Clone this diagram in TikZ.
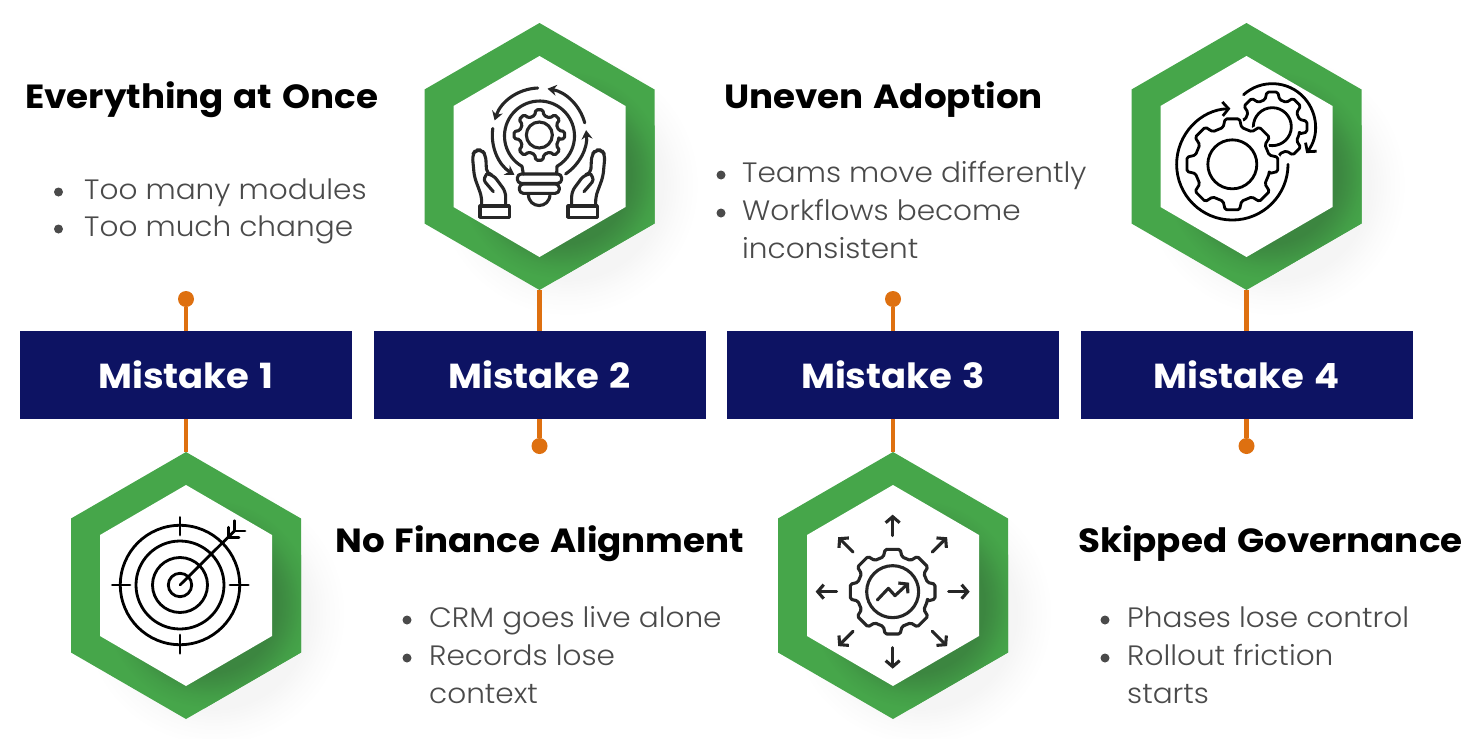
\documentclass[tikz,border=0pt]{standalone}
\usepackage{fontspec}
\setmainfont{Poppins}
\newfontfamily\headf{Poppins Bold}[FakeStretch=1.065,WordSpace=1.3]
\newfontfamily\bodyf{Poppins Light}[FakeStretch=1.055]
\usetikzlibrary{arrows.meta}
\definecolor{ringgreen}{HTML}{46A64A}
\definecolor{ringdarkA}{HTML}{3C8640}
\definecolor{ringdarkB}{HTML}{3F9043}
\definecolor{ringdarkC}{HTML}{439E47}
\definecolor{shadeA}{HTML}{F5F5F5}
\definecolor{shadeB}{HTML}{FBFBFB}
\definecolor{barnavy}{HTML}{0D1363}
\definecolor{linkorange}{HTML}{DE7010}
\definecolor{bodygray}{HTML}{4A4A4A}
\definecolor{icondark}{HTML}{262626}
\pgfdeclareradialshading{ringshade}{\pgfpoint{0bp}{0bp}}{
  color(0bp)=(ringdarkA);
  color(16.5bp)=(ringdarkA);
  color(19bp)=(ringdarkB);
  color(22bp)=(ringdarkC);
  color(25bp)=(ringgreen);
  color(50bp)=(ringgreen)}
\pgfdeclareradialshading{outershade}{\pgfpoint{0bp}{0bp}}{
  color(0bp)=(shadeA);
  color(18bp)=(shadeA);
  color(21.5bp)=(shadeB);
  color(25bp)=(white);
  color(50bp)=(white)}
\tikzset{
  x=1pt,y=-1pt,
  bar/.style={fill=barnavy,draw=none,minimum width=332pt,minimum height=88pt,inner sep=0pt,text=white,font=\fontsize{34.7}{34.7}\selectfont\headf},
  dotnode/.style={circle,fill=linkorange,draw=none,minimum size=16pt,inner sep=0pt},
  link/.style={draw=linkorange,line width=4.5pt},
  heading/.style={anchor=base west,inner sep=0pt,text=black,font=\fontsize{33.5}{33.5}\selectfont\headf},
  item/.style={anchor=base west,inner sep=0pt,text=bodygray,font=\fontsize{28}{28}\selectfont\bodyf},
  bulletdot/.style={circle,fill=bodygray,draw=none,minimum size=9pt,inner sep=0pt},
  ico/.style={line width=2.8pt,line cap=round,line join=round,draw=black},
  icod/.style={line width=3.1pt,line cap=round,line join=round,draw=icondark},
  barb/.style={-{Straight Barb[length=6pt,width=14pt]}},
  tip/.style={-{Stealth[length=9pt,width=11pt]}}
}
% hexagon outline around (cx,cy): half width, half height, half side
\newcommand\hexpath[5]{(#1,#2-#4) -- (#1+#3,#2-#5) -- (#1+#3,#2+#5) -- (#1,#2+#4) -- (#1-#3,#2+#5) -- (#1-#3,#2-#5) -- cycle}
\newcommand\hexring[2]{%
  \shade[shading=outershade] (#1+28,#2+28) circle[radius=132pt];
  \fill[ringgreen] \hexpath{#1}{#2}{115}{133.5}{67};
  \begin{scope}
    \clip \hexpath{#1}{#2}{115}{133.5}{67};
    \shade[shading=ringshade] (#1+22,#2+18) circle[radius=105pt];
  \end{scope}
  \fill[white] \hexpath{#1}{#2}{86}{100.5}{50.5};
}
% gear: cx,cy,teeth,rotation,R outer,r root,outer half angle,root half angle,style
\newcommand\geardraw[9]{%
  \draw[#9,shift={(#1,#2)},rounded corners=1.6pt]
    ({#4-#8}:#6)
    \foreach \i in {1,...,#3}{
      -- ({#4+(\i-1)*360/#3-#8}:#6) -- ({#4+(\i-1)*360/#3-#7}:#5)
      -- ({#4+(\i-1)*360/#3+#7}:#5) -- ({#4+(\i-1)*360/#3+#8}:#6)
    } -- cycle;
}
\newcommand\handshape{%
  \draw[icod,rounded corners=5pt] (50,378) -- (50,350) -- (28,290) -- (22,225) -- (32,210) -- (50,210) -- (62,225) -- (65,282) -- (85,285) -- (122,335) -- (122,378);
  \draw[icod,rounded corners=3pt] (65,282) -- (55,300) -- (85,335);
  \draw[icod] (45,378) rectangle (133,412);
}
\begin{document}
\begin{tikzpicture}
\useasboundingbox (0,0) rectangle (1473,739);
\fill[white] (0,0) rectangle (1473,739);

% hexagons
\begin{scope}
\clip (0,0) rectangle (1473,739);
\hexring{186}{585.5}
\hexring{539.5}{156.5}
\hexring{893}{585.5}
\hexring{1246.5}{156.5}
\end{scope}
\coordinate (hexA) at (186,452);
\coordinate (hexB) at (539.5,290);
\coordinate (hexC) at (893,452);
\coordinate (hexD) at (1246.5,290);

% bars
\node[bar] (bar1) at (186,375) {Mistake 1};
\node[bar] (bar2) at (539.5,375) {Mistake 2};
\node[bar] (bar3) at (893,375) {Mistake 3};
\node[bar] (bar4) at (1246.5,375) {Mistake 4};
% dots
\node[dotnode] (dot1) at (186,299) {};
\node[dotnode] (dot2) at (539.5,446) {};
\node[dotnode] (dot3) at (893,299) {};
\node[dotnode] (dot4) at (1246.5,446) {};
% connectors
\draw[link] (dot1) -- (bar1.north);
\draw[link] (bar1.south) -- (hexA);
\draw[link] (hexB) -- (bar2.north);
\draw[link] (bar2.south) -- (dot2);
\draw[link] (dot3) -- (bar3.north);
\draw[link] (bar3.south) -- (hexC);
\draw[link] (hexD) -- (bar4.north);
\draw[link] (bar4.south) -- (dot4);

% texts
\node[heading] (h1) at (25,108.5) {Everything at Once};
\node[bulletdot] (b11) at (58.5,192) {};
\node[item] (t11) at (84,199) {Too many modules};
\node[bulletdot] (b12) at (58.5,229) {};
\node[item] (t12) at (84,236) {Too much change};

\node[heading] (h2) at (335,552.5) {No Finance Alignment};
\node[bulletdot] (b21) at (407,620) {};
\node[item] (t21) at (429,627) {CRM goes live alone};
\node[bulletdot] (b22) at (407,658) {};
\node[item] (t22) at (429,665) {Records lose};
\node[item] (t23) at (429,703) {context};

\node[heading] (h3) at (724,108.5) {Uneven Adoption};
\node[bulletdot] (b31) at (721,175) {};
\node[item] (t31) at (742,182) {Teams move differently};
\node[bulletdot] (b32) at (721,213) {};
\node[item] (t32) at (742,220) {Workflows become};
\node[item] (t33) at (742,258) {inconsistent};

\node[heading] (h4) at (1078,552.5) {Skipped Governance};
\node[bulletdot] (b41) at (1105,620) {};
\node[item] (t41) at (1127,627) {Phases lose control};
\node[bulletdot] (b42) at (1105,658) {};
\node[item] (t42) at (1127,665) {Rollout friction};
\node[item] (t43) at (1127,703) {starts};

% icon 1: target
\begin{scope}[shift={(50,430)},x=.33333pt,y=-.33333pt]
  \foreach \r in {59.7pt,44pt,27.5pt,11.7pt}
    \draw[ico] (390,465) circle[radius=\r];
  \draw[ico] (390,262) -- (390,315);
  \draw[ico] (390,615) -- (390,670);
  \draw[ico] (187,465) -- (240,465);
  \draw[ico] (540,465) -- (595,465);
  \draw[ico] (390,465) -- (553,303);
  \draw[ico] (553,272) -- (553,303) -- (585,303);
  \draw[ico] (535,292) -- (535,323) -- (567,323);
\end{scope}

% icon 2: bulb
\begin{scope}[shift={(465,80)},x=.33333pt,y=-.33333pt]
  \draw[icod] (175,282) -- (171,259) arc[start angle=-120,end angle=-420+0,radius=35pt] -- (275,282);
  \geardraw{223}{165}{8}{0}{25.5pt}{20pt}{8}{13}{icod}
  \draw[icod] (223,165) circle[radius=13pt];
  \draw[icod,rounded corners=4pt] (157,282) rectangle (290,310);
  \draw[icod,rounded corners=4pt] (163,312) rectangle (283,340);
  \draw[icod] (190,342) .. controls (190,388) and (255,388) .. (255,342);
  \handshape
  \begin{scope}[shift={(442,0)},x=-.33333pt,y=-.33333pt]
    \handshape
  \end{scope}
  \draw[icod,tip] (223,165) ++(92:47pt) arc[start angle=92,end angle=162,radius=47pt];
  \draw[icod,tip] (223,165) ++(15:47pt) arc[start angle=15,end angle=80,radius=47pt];
  \draw[icod,tip] (223,165) ++(172:47pt) arc[start angle=172,end angle=238,radius=47pt];
  \draw[icod,tip] (223,165) ++(-56:47pt) arc[start angle=-56,end angle=6,radius=47pt];
\end{scope}

% icon 3: gear with arrows
\begin{scope}[shift={(760,430)},x=.33333pt,y=-.33333pt]
  \geardraw{398}{485}{8}{0}{43pt}{36pt}{10}{15}{icod}
  \draw[icod] (398,485) circle[radius=26pt];
  \draw[icod,barb] (352,510) -- (385,475) -- (405,497) -- (447,458);
  \foreach \a in {0,45,...,315}
    \draw[icod,barb,shift={(398,485)}] (\a:56pt) -- (\a:77pt);
\end{scope}

% icon 4: two gears
\begin{scope}[shift={(1110,10)},x=.33333pt,y=-.33333pt]
  \geardraw{487}{350}{8}{0}{35pt}{28pt}{9}{15}{ico}
  \draw[ico] (487,350) circle[radius=19pt];
  \geardraw{367}{463}{8}{0}{46pt}{38pt}{9}{14}{ico,fill=white,preaction={draw=white,line width=6pt}}
  \draw[ico] (367,463) circle[radius=24.5pt];
  \draw[ico,barb] (367,463) ++(0:55.7pt) arc[start angle=0,end angle=-268,radius=55.7pt];
  \draw[ico,barb] (487,350) ++(132:43pt) arc[start angle=132,end angle=-38,radius=43pt];
\end{scope}
\end{tikzpicture}
\end{document}
